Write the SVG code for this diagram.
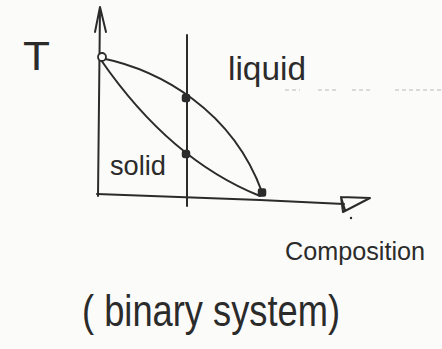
<svg xmlns="http://www.w3.org/2000/svg" width="442" height="349" viewBox="0 0 442 349">
<style>
.ln{fill:none;stroke:#2b2b2b;stroke-width:2;stroke-linecap:round;stroke-linejoin:round}
.dot{fill:#2b2b2b;stroke:#2b2b2b;stroke-width:1.5}
.txt{font-family:"Liberation Sans","DejaVu Sans",sans-serif;fill:#2b2b2b}
</style>
<rect width="442" height="349" fill="#fbfbfa"/>
<g id="connectors">
<path class="ln" d="M98,196 L100,8"/>
<path class="ln" d="M95,32 L100,7 L106,32"/>
<path class="ln" d="M97,194 L260,200 L344,204"/>
<path class="ln" d="M341,197 L370,198 L343,212 Z M341,197 L345,210"/>
<circle cx="351" cy="218" r="1.2" fill="#2b2b2b"/>
<path class="ln" d="M187,35 L187,206"/>
<path class="ln" d="M101,58 C160,70 232,110 262,192"/>
<path class="ln" d="M101,60 Q170,160 260,196"/>
<path d="M285,90 H300 M318,90 H336 M352,90 H372 M395,90 H442" fill="none" stroke="#cfcfcf" stroke-width="1.5" stroke-dasharray="4 3"/>
</g>
<g id="node-top"><circle cx="102" cy="57" r="4" fill="#fbfbfa" stroke="#2b2b2b" stroke-width="1.8"/></g>
<g id="node-liquidus"><rect class="dot" x="182.5" y="94.5" width="7" height="7" rx="2"/></g>
<g id="node-solidus"><rect class="dot" x="182.5" y="150.5" width="7" height="7" rx="2.5"/></g>
<g id="node-end"><rect class="dot" x="258.5" y="189" width="7" height="7" rx="1.5"/></g>
<g id="labels">
<text class="txt" x="23" y="70" font-size="40" textLength="27" lengthAdjust="spacingAndGlyphs">T</text>
<text class="txt" x="228" y="80" font-size="33" textLength="78" lengthAdjust="spacingAndGlyphs">liquid</text>
<text class="txt" x="110" y="175" font-size="28" textLength="56" lengthAdjust="spacingAndGlyphs">solid</text>
<text class="txt" x="285" y="260" font-size="25" textLength="140" lengthAdjust="spacingAndGlyphs">Composition</text>
<text class="txt" x="82" y="326" font-size="44" textLength="258" lengthAdjust="spacingAndGlyphs">( binary system)</text>
</g>
</svg>
